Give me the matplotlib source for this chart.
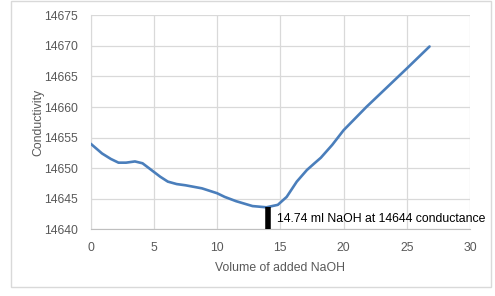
import matplotlib
matplotlib.use("Agg")
import matplotlib.pyplot as plt
from matplotlib.patches import Rectangle

# ---------------------------------------------------------------------------
# Data
# ---------------------------------------------------------------------------
volume = [0, 0.9, 1.6, 2.2, 2.8, 3.5, 4.1, 4.8, 5.5, 6.1, 6.8, 7.5, 8.8, 10,
          10.6, 11.5, 12.8, 13.9, 14.8, 15.5, 16.3, 17.1, 17.7, 18.2, 19.1,
          20, 20.9, 21.8, 25, 26.8]
conductivity = [14654, 14652.4, 14651.5, 14650.9, 14650.9, 14651.1, 14650.8,
                14649.7, 14648.6, 14647.8, 14647.4, 14647.2, 14646.7,
                14645.9, 14645.3, 14644.6, 14643.8, 14643.6, 14644.0,
                14645.3, 14647.8, 14649.7, 14650.8, 14651.7, 14653.8,
                14656.2, 14658.1, 14660, 14666.3, 14669.9]

x_ticks = [0, 5, 10, 15, 20, 25, 30]
y_ticks = [14640, 14645, 14650, 14655, 14660, 14665, 14670, 14675]

marker_x = 14
marker_y = 14643.6
label = "14.74 ml NaOH at 14644 conductance"

FONT = "Liberation Sans"
GRAY = "#595959"

fig = plt.figure(figsize=(4.95, 2.96), dpi=100)
fig.patches.append(Rectangle((0.0222, 0.0304), 0.9697, 0.966,
                             transform=fig.transFigure, fill=False,
                             edgecolor="#d9d9d9", linewidth=1.0))

ax = fig.add_axes([0.1832, 0.2253, 0.7663, 0.723])
ax.plot(volume, conductivity, color="#4a7ebb", linewidth=1.9,
        solid_capstyle="round", solid_joinstyle="round", zorder=3)

ax.vlines(marker_x, y_ticks[0], marker_y, color="black", linewidth=4, zorder=4)
ax.text(marker_x + 0.7, 14641.7, label, fontsize=8.8, family=FONT,
        color="black", va="center", ha="left", clip_on=False)

ax.set_xlim(x_ticks[0], x_ticks[-1])
ax.set_ylim(y_ticks[0], y_ticks[-1])
ax.set_xticks(x_ticks)
ax.set_yticks(y_ticks)
ax.grid(True, color="#d9d9d9", linewidth=0.9)
ax.set_axisbelow(True)
ax.tick_params(length=0, labelsize=8.8, labelcolor=GRAY)
ax.tick_params(axis="y", pad=9)
ax.tick_params(axis="x", pad=9)
for lab in ax.get_xticklabels() + ax.get_yticklabels():
    lab.set_family(FONT)
for side in ["top", "right"]:
    ax.spines[side].set_visible(False)
ax.spines["left"].set_color("#d9d9d9")
ax.spines["bottom"].set_color("#bfbfbf")

ax.set_xlabel("Volume of added NaOH", fontsize=8.8, family=FONT,
              color=GRAY, labelpad=6)
ax.set_ylabel("Conductivity", fontsize=8.8, family=FONT,
              color=GRAY, labelpad=0)

fig.savefig("out.png", dpi=100)
